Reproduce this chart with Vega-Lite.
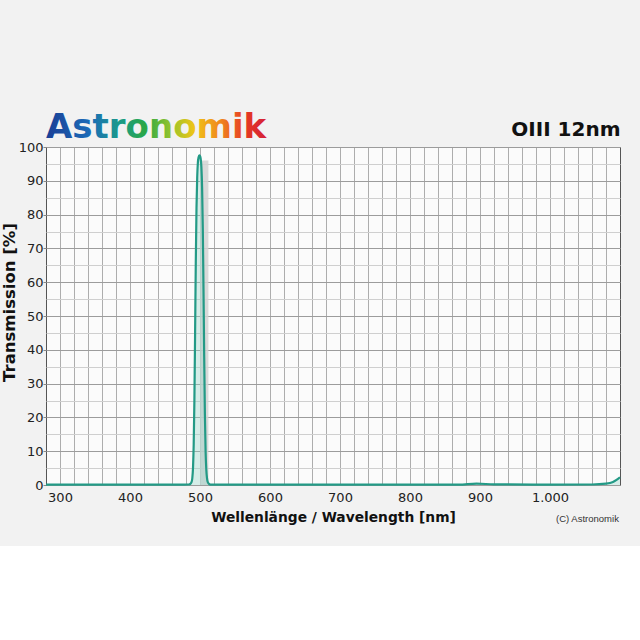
{
  "$schema": "https://vega.github.io/schema/vega-lite/v6.json",
  "background": "#f2f2f2",
  "padding": {"left": 0, "top": 110, "right": 19, "bottom": 21},
  "config": {
    "font": "DejaVu Sans",
    "view": {"fill": "#fbfbfb", "stroke": "#555555", "strokeWidth": 1},
    "axis": {"labelFont": "DejaVu Sans", "labelFontSize": 13, "labelColor": "#222222", "titleFont": "DejaVu Sans", "titleFontWeight": "bold", "titleColor": "#111111"},
    "axisY": {
      "titleFontSize": 16.5, "titlePadding": 1, "titleY": 155,
      "labelExpr": "datum.value % 10 === 0 ? datum.label : ''",
      "domain": false, "tickSize": 3, "tickColor": {"condition": {"test": "datum.value % 10 === 0", "value": "#888888"}, "value": "rgba(0,0,0,0)"},
      "labelPadding": 0,
      "grid": true, "gridOpacity": 1, "gridColor": {"condition": {"test": "datum.value % 10 === 0", "value": "#9c9c9c"}, "value": "#cfcfcf"}
    }
  },
  "title": {"text": "(C) Astronomik", "orient": "bottom", "anchor": "end", "fontSize": 9.5, "fontWeight": "normal", "color": "#333333", "font": "Liberation Sans", "offset": -10, "dx": -6},
  "datasets": {
    "curve": [
      {"wl": 280, "t": 0.1}, {"wl": 350, "t": 0.1}, {"wl": 420, "t": 0.1}, {"wl": 470, "t": 0.1}, {"wl": 484, "t": 0.15},
      {"wl": 486, "t": 0.3}, {"wl": 488, "t": 0.9}, {"wl": 489, "t": 2}, {"wl": 490, "t": 5}, {"wl": 491, "t": 12},
      {"wl": 492, "t": 25}, {"wl": 493, "t": 45}, {"wl": 494, "t": 66}, {"wl": 495, "t": 82}, {"wl": 496, "t": 91},
      {"wl": 497, "t": 95.5}, {"wl": 498, "t": 97}, {"wl": 499, "t": 97.5}, {"wl": 500, "t": 97.3}, {"wl": 501, "t": 96.5},
      {"wl": 502, "t": 94}, {"wl": 503, "t": 88}, {"wl": 504, "t": 76}, {"wl": 505, "t": 58}, {"wl": 506, "t": 38},
      {"wl": 507, "t": 21}, {"wl": 508, "t": 10}, {"wl": 509, "t": 4.5}, {"wl": 510, "t": 2}, {"wl": 511, "t": 0.9},
      {"wl": 513, "t": 0.3}, {"wl": 516, "t": 0.1}, {"wl": 600, "t": 0.1}, {"wl": 700, "t": 0.1}, {"wl": 800, "t": 0.1},
      {"wl": 870, "t": 0.1}, {"wl": 895, "t": 0.4}, {"wl": 920, "t": 0.2}, {"wl": 1000, "t": 0.1}, {"wl": 1060, "t": 0.15},
      {"wl": 1080, "t": 0.4}, {"wl": 1090, "t": 0.9}, {"wl": 1095, "t": 1.5}, {"wl": 1100, "t": 2.3}
    ],
    "band": [{"start": 500, "end": 512, "top": 96}]
  },
  "vconcat": [
    {
      "width": 574,
      "height": 338,
      "title": {
        "text": "Astronomik", "anchor": "start", "frame": "group", "fontSize": 34, "font": "DejaVu Sans", "fontWeight": "bold", "offset": -26,
        "color": {"value": {"gradient": "linear", "x1": 0, "y1": 0, "x2": 1, "y2": 0, "stops": [
          {"offset": 0, "color": "#1b3f96"}, {"offset": 0.2, "color": "#1c6cb8"}, {"offset": 0.33, "color": "#1a9a8a"},
          {"offset": 0.45, "color": "#2aa845"}, {"offset": 0.57, "color": "#9cc52a"}, {"offset": 0.67, "color": "#f0c418"},
          {"offset": 0.78, "color": "#f08a1e"}, {"offset": 0.9, "color": "#e63a22"}, {"offset": 1, "color": "#d31f3a"}]}}
      },
      "layer": [
        {
          "data": {"name": "band"},
          "mark": {"type": "rect", "color": "#d2d2d2", "opacity": 0.85},
          "encoding": {
            "x": {"field": "start", "type": "quantitative", "scale": {"domain": [280, 1100], "nice": false, "zero": false}, "axis": {
              "orient": "bottom", "title": "Wellenlänge / Wavelength [nm]", "titleFontSize": 13.8, "titlePadding": 6,
              "values": [300,320,340,360,380,400,420,440,460,480,500,520,540,560,580,600,620,640,660,680,700,720,740,760,780,800,820,840,860,880,900,920,940,960,980,1000,1020,1040,1060,1080],
              "labelExpr": "datum.value % 100 === 0 ? (datum.value === 1000 ? '1.000' : datum.label) : ''",
              "ticks": false, "domain": false, "labelPadding": 6,
              "grid": true, "gridColor": "#adadad", "gridWidth": 1, "gridOpacity": 1}},
            "x2": {"field": "end"},
            "y": {"field": "top", "type": "quantitative", "scale": {"domain": [0, 100], "nice": false}, "axis": {"orient": "left", "title": "Transmission [%]", "values": [0,5,10,15,20,25,30,35,40,45,50,55,60,65,70,75,80,85,90,95,100]}},
            "y2": {"datum": 0}
          }
        },
        {
          "data": {"name": "curve"},
          "mark": {"type": "area", "color": "#8fd3c6", "opacity": 0.35},
          "encoding": {
            "x": {"field": "wl", "type": "quantitative", "axis": {
              "orient": "top", "labels": false, "ticks": false, "domain": false, "grid": false,
              "title": "OIII 12nm", "titleAnchor": "end", "titleFontSize": 20, "titlePadding": 8, "titleFont": "DejaVu Sans", "titleColor": "#111111"}},
            "y": {"field": "t", "type": "quantitative", "axis": {"orient": "left", "title": "Transmission [%]", "values": [0,5,10,15,20,25,30,35,40,45,50,55,60,65,70,75,80,85,90,95,100]}}
          }
        },
        {
          "data": {"name": "curve"},
          "mark": {"type": "line", "color": "#239a86", "strokeWidth": 2.2, "interpolate": "monotone"},
          "encoding": {
            "x": {"field": "wl", "type": "quantitative", "axis": null},
            "y": {"field": "t", "type": "quantitative", "axis": {"orient": "left", "title": "Transmission [%]", "values": [0,5,10,15,20,25,30,35,40,45,50,55,60,65,70,75,80,85,90,95,100]}}
          }
        }
      ]
    }
  ]
}
